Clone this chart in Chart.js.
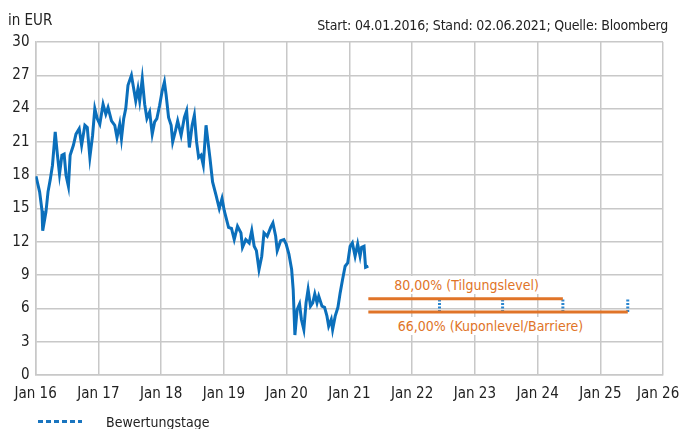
<!DOCTYPE html>
<html>
<head>
<meta charset="utf-8">
<script src="https://cdn.jsdelivr.net/npm/chart.js@4.4.1/dist/chart.umd.min.js"></script>
<style>
  html, body { margin: 0; padding: 0; background: #fff; }
  #wrap { position: relative; width: 680px; height: 429px; overflow: hidden;
          font-family: "DejaVu Sans Condensed", "Liberation Sans Narrow", sans-serif; color: #222; }
  #chart { position: absolute; left: 0; top: 0; }
  .txt { position: absolute; white-space: nowrap; font-size: 14px; line-height: 16px; }
  .xlab { position: absolute; white-space: nowrap; font-size: 15px; line-height: 16px; top: 385px; }
  .lvl { position: absolute; white-space: nowrap; font-size: 14px; line-height: 16px;
         color: #e07428; background: #fff; padding: 1px 4px; transform: translateX(-50%); }
  #legendLine { position: absolute; left: 38px; top: 420px; width: 44px; height: 3px;
                background: repeating-linear-gradient(90deg, #1a75bf 0 5px, transparent 5px 8px); }
</style>
</head>
<body>
<div id="wrap">
  <canvas id="chart" width="680" height="429"></canvas>
  <div class="txt" style="left:8px; top:12px; font-size:15px;">in EUR</div>
  <div class="txt" style="right:12px; top:17px; letter-spacing:-0.2px;">Start: 04.01.2016; Stand: 02.06.2021; Quelle: Bloomberg</div>
  <div id="lvlTop" class="lvl">80,00% (Tilgungslevel)</div>
  <div id="lvlBottom" class="lvl">66,00% (Kuponlevel/Barriere)</div>
  <div id="legendLine"></div>
  <div class="txt" style="left:106px; top:414px;">Bewertungstage</div>
</div>
<script>
// share price (EUR)
const dates = [
  '2016-01-04','2016-01-25','2016-02-08','2016-02-12','2016-03-02','2016-03-14','2016-03-27','2016-04-09',
  '2016-04-25','2016-05-08','2016-05-20','2016-06-03','2016-06-16','2016-06-27','2016-07-11','2016-07-21',
  '2016-08-09','2016-08-24','2016-09-12','2016-09-26','2016-10-15','2016-10-29','2016-11-13','2016-11-29',
  '2016-12-12','2016-12-26','2017-01-10','2017-01-29','2017-02-14','2017-02-27','2017-03-19','2017-04-07',
  '2017-04-20','2017-05-06','2017-05-16','2017-05-29','2017-06-10','2017-06-23','2017-07-13','2017-07-26',
  '2017-08-07','2017-08-20','2017-08-30','2017-09-14','2017-09-28','2017-10-11','2017-10-27','2017-11-11',
  '2017-11-25','2017-12-08','2017-12-24','2018-01-08','2018-01-21','2018-01-31','2018-02-14','2018-03-01',
  '2018-03-10','2018-03-26','2018-04-08','2018-04-28','2018-05-17','2018-05-30','2018-06-15','2018-07-01',
  '2018-07-14','2018-07-27','2018-08-08','2018-08-22','2018-09-04','2018-09-20','2018-10-03','2018-10-13',
  '2018-10-28','2018-11-17','2018-12-06','2018-12-22','2019-01-04','2019-01-29','2019-02-15','2019-03-03',
  '2019-03-22','2019-04-11','2019-04-20','2019-05-09','2019-05-29','2019-06-13','2019-06-27','2019-07-10',
  '2019-07-25','2019-08-10','2019-08-23','2019-09-11','2019-10-01','2019-10-14','2019-10-30','2019-11-08',
  '2019-11-28','2019-12-17','2019-12-30','2020-01-15','2020-01-31','2020-02-09','2020-02-19','2020-03-03',
  '2020-03-17','2020-03-28','2020-04-11','2020-04-24','2020-05-06','2020-05-20','2020-06-02','2020-06-14',
  '2020-06-27','2020-07-07','2020-07-26','2020-08-10','2020-08-24','2020-09-03','2020-09-18','2020-09-26',
  '2020-10-11','2020-10-27','2020-11-09','2020-11-23','2020-12-08','2020-12-23','2021-01-06','2021-01-19',
  '2021-02-04','2021-02-19','2021-03-05','2021-03-14','2021-03-28','2021-04-06','2021-04-22'
];
const prices = [
  17.9, 16.5, 14.8, 13.0, 14.7, 16.5, 17.6, 18.9,
  21.9, 19.8, 18.1, 19.8, 19.9, 18.0, 17.0, 19.8,
  20.7, 21.7, 22.2, 20.7, 22.5, 22.3, 19.6, 21.6,
  24.0, 23.1, 22.6, 24.4, 23.5, 24.1, 22.9, 22.5,
  21.4, 22.6, 21.3, 23.1, 24.0, 26.1, 27.0, 25.8,
  24.7, 25.8, 24.7, 26.7, 24.4, 23.1, 23.7, 21.7,
  22.8, 23.1, 24.3, 25.6, 26.4, 25.2, 23.2, 22.5,
  21.0, 22.0, 22.9, 21.6, 23.2, 23.8, 20.5, 22.5,
  23.4, 21.0, 19.6, 19.8, 18.9, 22.5, 20.8, 19.5,
  17.4, 16.2, 15.0, 15.9, 14.8, 13.3, 13.2, 12.2,
  13.4, 12.8, 11.5, 12.2, 11.9, 13.0, 11.6, 11.2,
  9.5, 10.7, 12.8, 12.5, 13.3, 13.7, 12.5, 11.2,
  12.1, 12.2, 11.8, 10.9, 9.5, 7.7, 3.6, 5.9,
  6.4, 5.0, 4.1, 6.5, 7.7, 6.2, 6.5, 7.3,
  6.5, 7.1, 6.2, 6.1, 5.3, 4.4, 5.0, 4.1,
  5.3, 6.1, 7.4, 8.6, 9.8, 10.1, 11.6, 11.9,
  10.7, 11.8, 10.7, 11.5, 11.6, 9.7, 9.8
];

// levels and valuation days
const levelStart = '2021-04-22';
const tilgungLevel = 6.88;   // 80,00 %
const kuponLevel = 5.68;     // 66,00 %
const valuationDays = ['2022-06-10', '2023-06-12', '2024-05-28', '2025-06-10'];

const yTicks = [0, 3, 6, 9, 12, 15, 18, 21, 24, 27, 30];
const xYears = [2016, 2017, 2018, 2019, 2020, 2021, 2022, 2023, 2024, 2025, 2026];
const xLabels = ['Jan 16', 'Jan 17', 'Jan 18', 'Jan 19', 'Jan 20', 'Jan 21', 'Jan 22', 'Jan 23', 'Jan 24', 'Jan 25', 'Jan 26'];

function toYear(s) {
  const d = new Date(s + 'T00:00:00Z');
  const y = d.getUTCFullYear();
  const start = Date.UTC(y, 0, 1);
  const end = Date.UTC(y + 1, 0, 1);
  return y + (d.getTime() - start) / (end - start);
}

const blue = '#0b6fbb';
const orange = '#e07428';

const priceData = dates.map((d, i) => ({ x: toYear(d), y: prices[i] }));
const lastValuation = valuationDays[valuationDays.length - 1];
const topEnd = valuationDays[valuationDays.length - 2];

const datasets = [];
valuationDays.forEach(d => {
  datasets.push({
    data: [{ x: toYear(d), y: kuponLevel }, { x: toYear(d), y: tilgungLevel }],
    borderColor: '#2a86d0', borderWidth: 3, borderDash: [2, 1.5], pointRadius: 0, order: 3
  });
});
datasets.push({
  data: [{ x: toYear(levelStart), y: tilgungLevel }, { x: toYear(topEnd), y: tilgungLevel }],
  borderColor: orange, borderWidth: 3, pointRadius: 0, order: 2
});
datasets.push({
  data: [{ x: toYear(levelStart), y: kuponLevel }, { x: toYear(lastValuation), y: kuponLevel }],
  borderColor: orange, borderWidth: 3, pointRadius: 0, order: 2
});
datasets.push({
  data: priceData, borderColor: blue, borderWidth: 3, pointRadius: 0, tension: 0, order: 1
});

const font = { family: '"DejaVu Sans Condensed", "Liberation Sans Narrow", sans-serif', size: 15 };
const gridColor = '#c8c8c8';

const chart = new Chart(document.getElementById('chart'), {
  type: 'line',
  data: { datasets: datasets },
  options: {
    responsive: false,
    animation: false,
    layout: { padding: { top: 42, right: 17, left: 0, bottom: 0 } },
    plugins: { legend: { display: false }, tooltip: { enabled: false } },
    scales: {
      x: {
        type: 'linear', min: xYears[0], max: xYears[xYears.length - 1],
        afterBuildTicks: s => { s.ticks = xYears.map(v => ({ value: v })); },
        afterFit: s => { s.height = 54; s.paddingLeft = 0; s.paddingRight = 0; },
        grid: { color: gridColor, lineWidth: 1.5, drawTicks: false },
        border: { color: gridColor, width: 1.5 },
        ticks: { display: false }
      },
      y: {
        min: 0, max: 30,
        afterBuildTicks: s => { s.ticks = yTicks.map(v => ({ value: v })); },
        afterFit: s => { s.width = 35.5; s.paddingTop = 0; s.paddingBottom = 0; },
        grid: { color: gridColor, lineWidth: 1.5, drawTicks: false },
        border: { color: gridColor, width: 1.5 },
        ticks: { color: '#222', font: font, padding: 6 }
      }
    }
  }
});

// x tick labels as text under the grid lines (last one kept inside the page)
const xs = chart.scales.x, ys = chart.scales.y;
const wrap = document.getElementById('wrap');
xYears.forEach((v, i) => {
  const el = document.createElement('div');
  el.className = 'xlab';
  el.textContent = xLabels[i];
  wrap.appendChild(el);
  const w = el.offsetWidth;
  let left = xs.getPixelForValue(v) - w / 2;
  if (left + w > 679) left = 679 - w;
  el.style.left = left + 'px';
});

// level labels
const lt = document.getElementById('lvlTop');
lt.style.left = xs.getPixelForValue(2022.87) + 'px';
lt.style.top = (ys.getPixelForValue(tilgungLevel) - 23) + 'px';
const lb = document.getElementById('lvlBottom');
lb.style.left = xs.getPixelForValue(2023.25) + 'px';
lb.style.top = (ys.getPixelForValue(kuponLevel) + 5) + 'px';
</script>
</body>
</html>
